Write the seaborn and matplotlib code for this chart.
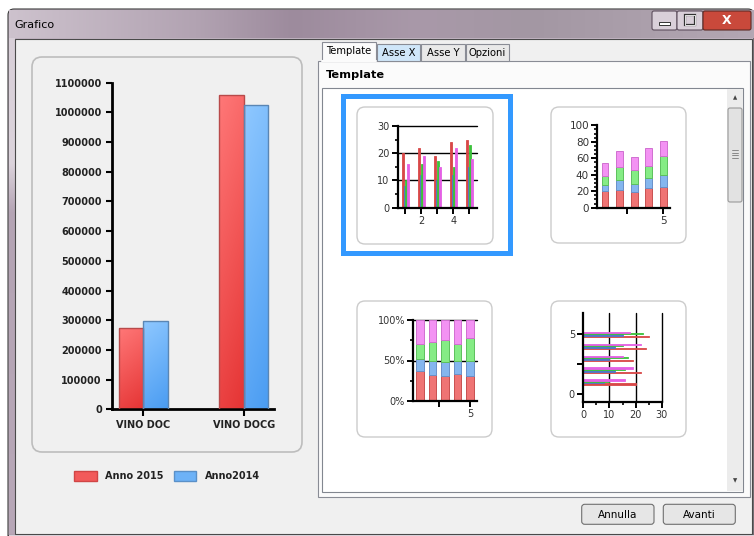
import numpy as np
import pandas as pd
import matplotlib
matplotlib.use("Agg")
import matplotlib.pyplot as plt
from matplotlib.patches import Rectangle, FancyBboxPatch, Patch
from matplotlib.ticker import MultipleLocator, FuncFormatter
from matplotlib.colors import to_rgb
import seaborn as sns

# ---- dati grafico principale ----
categorie = ["VINO DOC", "VINO DOCG"]
anni = ["Anno 2015", "Anno2014"]
anno_2015 = [275000, 1058000]
anno_2014 = [298000, 1025000]

# ---- dati delle anteprime (stesse 4 serie, 5 punti) ----
punti = [1, 2, 3, 4, 5]
serie_rossa = [20, 22, 19, 24, 25]
serie_blu = [8, 12, 10, 12, 15]
serie_verde = [10, 16, 17, 15, 23]
serie_rosa = [16, 19, 15, 22, 18]
nomi_serie = ["S1", "S2", "S3", "S4"]

W, H = 754, 536
sns.set_theme(style="white")
plt.rcParams['font.family'] = ['DejaVu Sans']

fig = plt.figure(figsize=(W / 100, H / 100), dpi=100, facecolor="white")
bg = fig.add_axes([0, 0, 1, 1])
bg.set_xlim(0, W)
bg.set_ylim(H, 0)
bg.axis('off')


def px_axes(x0, y0, x1, y1, z=5):
    a = fig.add_axes([x0 / W, 1 - y1 / H, (x1 - x0) / W, (y1 - y0) / H])
    a.set_zorder(z)
    a.set_facecolor('none')
    return a


def gradiente(ax, extent, stops, cols, horiz=True, n=200, **kw):
    t = np.linspace(0, 1, n)
    rgb = np.array([to_rgb(c) for c in cols])
    arr = np.stack([np.interp(t, stops, rgb[:, k]) for k in range(3)], axis=-1)
    arr = arr[None, :, :] if horiz else arr[:, None, :]
    return ax.imshow(arr, extent=extent, aspect='auto', interpolation='bilinear', **kw)


# ---------------- finestra ----------------
bg.add_patch(FancyBboxPatch((8, 9), 746, 540, boxstyle="round,pad=0,rounding_size=6",
                            fc="#c4b6c4", ec="#3a3a3a", lw=0.8))
gradiente(bg, (9, 754, 38, 10), [0, 0.25, 0.38, 0.55, 0.7, 1],
          ["#cdc2cd", "#b2a3b2", "#9d8b9d", "#a999a9", "#a397a3", "#b3a7b3"], zorder=1)
gradiente(bg, (9, 15, 536, 38), [0, 0.25, 0.35, 1],
          ["#d8cfd8", "#dcd4dc", "#b4a4b4", "#b8a8b8"], horiz=False, zorder=1)
bg.add_patch(Rectangle((15, 39), 737, 495, fc="#f0f0f0", ec="#4a4a4a", lw=0.8, zorder=2))
bg.plot([8, 754], [534.5, 534.5], color="#3a3a3a", lw=0.8, zorder=2)
bg.add_patch(Rectangle((9, 535), 745, 2, fc="#d8d0d8", ec="none", zorder=2))
bg.text(14, 25, "Grafico", fontsize=8, va='center', ha='left', color="black", zorder=3)

# pulsanti barra del titolo
bg.add_patch(FancyBboxPatch((652, 11), 25, 19, boxstyle="round,pad=0,rounding_size=2",
                            fc="#d9cfd9", ec="#5e4f5e", lw=0.8, zorder=3))
bg.add_patch(FancyBboxPatch((677, 11), 26, 19, boxstyle="round,pad=0,rounding_size=2",
                            fc="#d9cfd9", ec="#5e4f5e", lw=0.8, zorder=3))
bg.add_patch(FancyBboxPatch((703, 11), 48, 19, boxstyle="round,pad=0,rounding_size=2",
                            fc="#c9493b", ec="#5e2a24", lw=0.8, zorder=3))
bg.add_patch(Rectangle((659, 22), 11, 3, fc="white", ec="#333333", lw=0.7, zorder=4))
bg.add_patch(Rectangle((685, 15), 10, 10, fc="none", ec="#333333", lw=1.6, zorder=4))
bg.add_patch(Rectangle((685, 15), 10, 10, fc="none", ec="white", lw=0.6, zorder=4))
bg.text(727, 20.5, "X", fontsize=9, fontweight='bold', color="white", ha='center', va='center', zorder=4)

# ---------------- pannello sinistro ----------------
bg.add_patch(FancyBboxPatch((32, 57), 270, 395, boxstyle="round,pad=0,rounding_size=10",
                            fc="#f0f0f0", ec="#bdbdbd", lw=1.2, zorder=3))

df = pd.DataFrame({
    "categoria": categorie * 2,
    "anno": [anni[0]] * 2 + [anni[1]] * 2,
    "valore": anno_2015 + anno_2014,
})

ax = px_axes(112, 82.7, 274, 409.3)
sns.barplot(data=df, x="categoria", y="valore", hue="anno", palette=["#f25a5a", "#66aef5"],
            width=0.485, saturation=1, errorbar=None, legend=False, ax=ax)

grad_barre = [("#ff7878", "#e53434", "#b84a4a"), ("#8fc8ff", "#4a9cf2", "#5a86b4")]
for cont, (c1, c2, ec) in zip(ax.containers, grad_barre):
    for bar in cont:
        x0, y0 = bar.get_x(), bar.get_y()
        w, h = bar.get_width(), bar.get_height()
        u, v = np.meshgrid(np.linspace(0, 1, 30), np.linspace(0, 1, 120))
        t = 0.8 * v + 0.2 * u
        a1, a2 = np.array(to_rgb(c1)), np.array(to_rgb(c2))
        img = a1[None, None, :] * (1 - t[..., None]) + a2[None, None, :] * t[..., None]
        # riga 0 in alto: colore chiaro in cima alla barra
        im = ax.imshow(img, extent=(x0, x0 + w, y0, y0 + h), aspect='auto', origin='upper',
                       interpolation='bilinear', zorder=2)
        im.set_clip_path(bar)
        bar.set_facecolor('none')
        bar.set_edgecolor(ec)
        bar.set_linewidth(1)
        bar.set_zorder(3)

ax.set_xlim(-0.31, 1.30)
ax.set_ylim(0, 1100000)
ax.yaxis.set_major_locator(MultipleLocator(100000))
ax.yaxis.set_major_formatter(FuncFormatter(lambda val, pos: f"{int(val)}"))
sns.despine(ax=ax)
for s in ['left', 'bottom']:
    ax.spines[s].set_linewidth(2)
    ax.spines[s].set_color('black')
ax.tick_params(axis='y', direction='out', length=4.3, width=1.5, color='black', labelsize=7, pad=3, left=True)
ax.tick_params(axis='x', direction='out', length=5, width=1.5, color='black', labelsize=7, pad=3, bottom=True)
for lab in ax.get_xticklabels() + ax.get_yticklabels():
    lab.set_fontweight('bold')
    lab.set_color('#222222')
ax.set_xlabel('')
ax.set_ylabel('')

maniglie = [Patch(fc="#f25a5a", ec="#d04545", lw=1), Patch(fc="#6db2f7", ec="#5a90c8", lw=1)]
ax.legend(maniglie, anni, loc='center', bbox_to_anchor=(167 / W, 1 - 476 / H), bbox_transform=fig.transFigure,
          ncol=2, frameon=False, prop={'size': 7, 'weight': 'bold'}, handlelength=2.3, handleheight=1.2,
          handletextpad=0.9, columnspacing=1.0, labelcolor='#222222')

# ---------------- schede ----------------
bg.add_patch(Rectangle((318, 60.7), 432, 436.6, fc="#fbfbfb", ec="#898c95", lw=0.8, zorder=3))
schede = [("Asse X", 376.7, 420, "#cfe6f9"), ("Asse Y", 420.7, 465, "#e9e9e9"), ("Opzioni", 465.7, 509.3, "#e9e9e9")]
for nome, xa, xb, col in schede:
    bg.add_patch(Rectangle((xa, 44), xb - xa, 16.7, fc=col, ec="#898c95", lw=0.8, zorder=3))
    bg.text((xa + xb) / 2, 52.5, nome, fontsize=7.2, ha='center', va='center', color='black', zorder=4)
bg.add_patch(Rectangle((321.7, 41.7), 54.3, 19.8, fc="#fbfbfb", ec="#898c95", lw=0.8, zorder=4))
bg.plot([322.2, 375.5], [61, 61], color="#fbfbfb", lw=1.5, zorder=5)
bg.text(348.8, 51, "Template", fontsize=7.2, ha='center', va='center', color='black', zorder=5)
bg.text(326, 75, "Template", fontsize=8.2, fontweight='bold', ha='left', va='center', color='black', zorder=4)

# lista con barra di scorrimento
bg.add_patch(Rectangle((322, 88.3), 421.3, 403.4, fc="white", ec="#828790", lw=0.8, zorder=3))
bg.add_patch(Rectangle((727, 89), 16, 402, fc="#ececec", ec="none", zorder=4))
bg.add_patch(FancyBboxPatch((728, 108), 14, 94, boxstyle="round,pad=0,rounding_size=2",
                            fc="#e2e2e2", ec="#9a9a9a", lw=0.8, zorder=5))
for yy in [150, 152.5, 155, 157.5]:
    bg.plot([732, 738], [yy, yy], color="#7a7a7a", lw=0.6, zorder=6)
bg.text(735, 98, "▲", fontsize=4, ha='center', va='center', color='#444444', zorder=6)
bg.text(735, 481, "▼", fontsize=4, ha='center', va='center', color='#444444', zorder=6)

# pulsanti in basso
for nome, xa, xb in [("Annulla", 581.7, 654), ("Avanti", 663.3, 735.3)]:
    bg.add_patch(FancyBboxPatch((xa, 504.3), xb - xa, 20, boxstyle="round,pad=0,rounding_size=3",
                                fc="#e6e6e6", ec="#707070", lw=0.8, zorder=3))
    bg.text((xa + xb) / 2, 514.5, nome, fontsize=7.5, ha='center', va='center', color='black', zorder=4)

# riquadri delle anteprime
for (xa, ya, xb, yb) in [(357, 107, 493, 244), (551, 107, 686, 243), (357, 301, 492, 437), (551, 301, 686, 437)]:
    bg.add_patch(FancyBboxPatch((xa, ya), xb - xa, yb - ya, boxstyle="round,pad=0,rounding_size=8",
                                fc="white", ec="#cccccc", lw=1, zorder=4))
bg.add_patch(Rectangle((342.5, 95.8), 167.5, 157.4, fc="none", ec="#3399ff", lw=3.6, zorder=5))

pal_mini = ["#d84848", "#4f78c8", "#3cc23c", "#e460e4"]
pal_chiara = ["#ef7474", "#85b6ee", "#85ec85", "#f392f3"]
bordi = ["#c85050", "#6a90c8", "#5cc05c", "#d070d0"]
serie = [serie_rossa, serie_blu, serie_verde, serie_rosa]

df_t = pd.DataFrame({
    "punto": punti * 4,
    "serie": sum([[n] * 5 for n in nomi_serie], []),
    "valore": serie_rossa + serie_blu + serie_verde + serie_rosa,
})


def stile_mini(a):
    sns.despine(ax=a)
    for s in ['left', 'bottom']:
        a.spines[s].set_linewidth(1.6)
        a.spines[s].set_color('black')
    a.tick_params(which='major', direction='out', length=4, width=1.4, color='black',
                  labelsize=7, pad=2, labelcolor='#333333', left=True, bottom=True)
    a.tick_params(which='minor', direction='out', length=2.5, width=1.2, color='black', left=True, bottom=True)
    a.set_xlabel('')
    a.set_ylabel('')


def barre_piene(a):
    # bordi dello stesso colore, così le barre sottili restano visibili
    for p in a.patches:
        p.set_edgecolor(p.get_facecolor())
        p.set_linewidth(0.6)
        p.set_zorder(2)


# anteprima 1: barre raggruppate
t1 = px_axes(397.7, 126, 476.7, 207.7, z=6)
for v in [10, 20, 30]:
    t1.axhline(v, color='black', lw=1, zorder=0, clip_on=False)
sns.barplot(data=df_t, x="punto", y="valore", hue="serie", native_scale=True, width=0.42,
            palette=pal_mini, saturation=1, errorbar=None, legend=False, ax=t1)
barre_piene(t1)
t1.set_xlim(0.525, 5.46)
t1.set_ylim(0, 30)
t1.set_xticks(punti, ['', '2', '', '4', ''])
t1.set_yticks([0, 10, 20, 30])
t1.yaxis.set_minor_locator(MultipleLocator(5))
stile_mini(t1)

# anteprima 2: barre in pila
t2 = px_axes(597.3, 125.3, 670, 207.7, z=6)
base = np.zeros(5)
for vals, col, ec in zip(serie, pal_chiara, bordi):
    t2.bar(np.arange(5), vals, bottom=base, width=0.46, color=col, ec=ec, lw=0.7)
    base += np.array(vals)
t2.set_xlim(-0.53, 4.46)
t2.set_ylim(0, 100)
t2.set_xticks([1.5, 4], ['', '5'])
t2.yaxis.set_major_locator(MultipleLocator(20))
t2.yaxis.set_minor_locator(MultipleLocator(5))
stile_mini(t2)
t2.tick_params(which='major', labelsize=7.5)

# anteprima 3: barre in pila al 100%
t3 = px_axes(413.3, 320, 476.7, 401, z=6)
for v in [50, 100]:
    t3.axhline(v, color='black', lw=1, zorder=0, clip_on=False)
totali = np.sum(np.array(serie), axis=0)
base = np.zeros(5)
for vals, col, ec in zip(serie, pal_chiara, bordi):
    perc = np.array(vals) / totali * 100
    t3.bar(np.arange(5), perc, bottom=base, width=0.6, color=col, ec=ec, lw=0.7, zorder=2)
    base += perc
t3.set_xlim(-0.54, 4.54)
t3.set_ylim(0, 100)
t3.set_xticks([1.5, 4], ['', '5'])
t3.set_yticks([0, 50, 100], ['0%', '50%', '100%'])
t3.yaxis.set_minor_locator(MultipleLocator(25))
stile_mini(t3)

# anteprima 4: barre orizzontali raggruppate
t4 = px_axes(583.3, 313.3, 661.7, 401.7, z=6)
for v in [10, 20, 30]:
    t4.axvline(v, color='black', lw=1, zorder=0, clip_on=False)
sns.barplot(data=df_t, x="valore", y="punto", hue="serie", orient='h', native_scale=True, width=0.45,
            palette=pal_mini, saturation=1, errorbar=None, legend=False, ax=t4)
barre_piene(t4)
t4.set_xlim(0, 30)
t4.set_ylim(-0.64, 6.76)
t4.set_yticks([0, 2.5, 5], ['0', '', '5'])
t4.set_xticks([0, 10, 20, 30])
t4.xaxis.set_minor_locator(MultipleLocator(5))
stile_mini(t4)

fig.savefig("out.png", dpi=100, facecolor="white")
